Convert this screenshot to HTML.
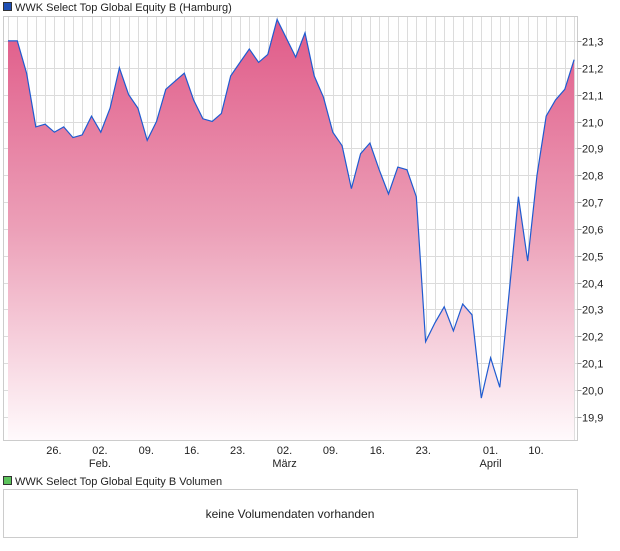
<!DOCTYPE html>
<html><head><meta charset="utf-8"><style>
body{margin:0;background:#fff;font-family:"Liberation Sans",sans-serif;}
svg text{font-family:"Liberation Sans",sans-serif;font-size:11px;fill:#222;}
</style></head><body>
<svg width="620" height="546">
<defs><linearGradient id="g" x1="0" y1="0" x2="0" y2="1">
<stop offset="0" stop-color="#e05a88"/><stop offset="0.5" stop-color="#eca0b8"/><stop offset="1" stop-color="#fffafc"/></linearGradient></defs>
<g id="legend1">
<rect x="3.5" y="2.5" width="8" height="8" fill="#1e4fb5" stroke="#333" stroke-width="1"/>
<text x="15" y="11">WWK Select Top Global Equity B (Hamburg)</text></g>
<g id="grid"></g>
<path id="area" fill="url(#g)"/>
<path id="line" fill="none" stroke="#1f5bd0" stroke-width="1.2"/>
<rect x="3.5" y="16.5" width="574" height="424" fill="none" stroke="#ccc"/>
<g id="yaxis"></g><g id="xaxis"></g>
<g>
<rect x="3.5" y="476.5" width="8" height="8" fill="#5cc35c" stroke="#333"/>
<text x="15" y="485">WWK Select Top Global Equity B Volumen</text></g>
<rect x="3.5" y="489.5" width="574" height="48" fill="#fff" stroke="#ccc"/>
<text x="290" y="518" text-anchor="middle" style="font-size:12px">keine Volumendaten vorhanden</text>
</svg>
<script>
const values=[21.30,21.30,21.18,20.98,20.99,20.96,20.98,20.94,20.95,21.02,20.96,21.05,21.20,21.10,21.05,20.93,21.00,21.12,21.15,21.18,21.08,21.01,21.00,21.03,21.17,21.22,21.27,21.22,21.25,21.38,21.31,21.24,21.33,21.17,21.09,20.96,20.91,20.75,20.88,20.92,20.82,20.73,20.83,20.82,20.72,20.18,20.25,20.31,20.22,20.32,20.28,19.97,20.12,20.01,20.36,20.72,20.48,20.80,21.02,21.08,21.12,21.23];
const yTicks=[19.9,20.0,20.1,20.2,20.3,20.4,20.5,20.6,20.7,20.8,20.9,21.0,21.1,21.2,21.3];
const xLabels=[["26.",4.95],["02.",9.9],["09.",14.9],["16.",19.8],["23.",24.75],["02.",29.8],["09.",34.75],["16.",39.8],["23.",44.75],["01.",52.0],["10.",56.9]];
const monthLabels=[["Feb.",9.9],["März",29.8],["April",52.0]];
const NS="http://www.w3.org/2000/svg";
const X=i=>8+i*9.28, Y=v=>390-(v-20.0)*268.5;
const pTop=16.5,pBot=440.5,pLeft=3.5,pRight=577.5;
function mk(t,a,p){const e=document.createElementNS(NS,t);for(const k in a)e.setAttribute(k,a[k]);p.appendChild(e);return e;}
const grid=document.getElementById('grid');
for(let i=0;i<values.length;i++){const x=Math.round(X(i))+0.5;
const l=mk('line',{x1:x,x2:x,y1:pTop,y2:pBot,stroke:'#dcdcdc'},grid);

}
const ya=document.getElementById('yaxis');
yTicks.forEach(v=>{const y=Math.round(Y(v))+0.5;
const l=mk('line',{x1:pLeft,x2:pRight,y1:y,y2:y,stroke:'#dcdcdc'},grid);


mk('line',{x1:pRight,x2:pRight+4,y1:y,y2:y,stroke:'#999'},ya);
const t=mk('text',{x:582,y:y+4},ya);t.textContent=v.toFixed(1).replace('.',',');

});
const xa=document.getElementById('xaxis');
xLabels.forEach(([s,i])=>{const t=mk('text',{x:X(i),y:454,'text-anchor':'middle'},xa);t.textContent=s;

});
monthLabels.forEach(([s,i])=>{const t=mk('text',{x:X(i),y:467,'text-anchor':'middle'},xa);t.textContent=s;

});
let d='';values.forEach((v,i)=>{d+=(i?'L':'M')+X(i).toFixed(1)+','+Y(v).toFixed(1);});
document.getElementById('line').setAttribute('d',d);
document.getElementById('area').setAttribute('d',d+'L'+X(values.length-1).toFixed(1)+','+pBot+'L'+X(0)+','+pBot+'Z');
</script>
</body></html>
